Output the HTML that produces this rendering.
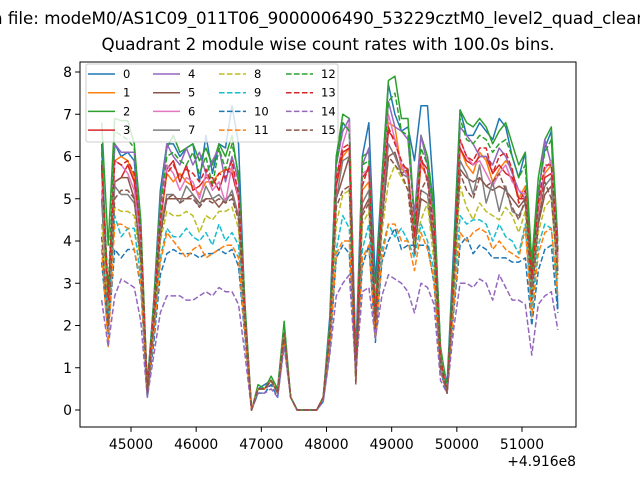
<!DOCTYPE html>
<html><head><meta charset="utf-8"><style>
body{margin:0;background:#fff}
svg{display:block;font-family:"DejaVu Sans","Liberation Sans",sans-serif}
</style></head><body>
<svg id="chart" width="640" height="480" viewBox="0 0 640 480" xmlns="http://www.w3.org/2000/svg">
<rect x="0" y="0" width="640" height="480" fill="#fff"/>
<text x="-8" y="24" font-size="16.7">n file: modeM0/AS1C09_011T06_9000006490_53229cztM0_level2_quad_clean.evt</text>
<text x="328" y="50" font-size="16.7" text-anchor="middle">Quadrant 2 module wise count rates with 100.0s bins.</text>
<g id="plot"></g>
<rect x="80" y="62" width="496" height="365" fill="none" stroke="#000" stroke-width="1"/>
<text x="576" y="466" font-size="13.9" text-anchor="end">+4.916e8</text>
</svg>
<script>
const T0 = 44550, DT = 100;
const xTicks = [45000,46000,47000,48000,49000,50000,51000];
const yTicks = [0,1,2,3,4,5,6,7,8];
const seriesLabels = ["0","1","2","3","4","5","6","7","8","9","10","11","12","13","14","15"];
const colors = ["#1f77b4","#ff7f0e","#2ca02c","#d62728","#9467bd","#8c564b","#e377c2","#7f7f7f","#bcbd22","#17becf","#1f77b4","#ff7f0e","#2ca02c","#d62728","#9467bd","#8c564b"];
const s0 = [6.3,2.5,6.3,6.0,6.1,5.9,4.0,0.6,2.6,5.2,6.3,6.3,6.0,6.2,6.3,5.4,6.5,5.6,6.3,6.2,7.2,6.3,2.3,0,0.5,0.6,0.7,0.4,1.9,0.3,0,0,0,0,0.3,2.2,6.0,6.8,6.6,1.3,6.0,6.8,3.0,5.5,7.7,7.0,6.6,6.7,5.9,7.2,7.2,5.0,1.4,0.6,3.8,7.1,6.5,6.5,6.8,6.6,6.4,6.9,6.7,6.0,5.5,6.1,3.3,5.1,6.2,6.6,2.4];
const s1 = [5.2,2.7,5.9,6.0,5.9,5.5,4.0,0.5,2.2,4.4,5.6,5.4,5.6,5.4,5.3,5.1,5.4,5.4,5.6,5.7,5.7,5.0,2.2,0,0.5,0.5,0.7,0.4,1.8,0.3,0,0,0,0,0.3,1.8,5.3,6.0,6.2,0.8,5.2,5.4,2.1,4.9,6.8,6.7,5.7,5.6,4.0,5.8,5.5,4.3,1.2,0.4,3.1,6.2,5.8,5.6,6.1,5.9,5.4,5.7,5.9,5.7,5.0,5.3,3.0,4.7,5.6,5.8,3.5];
const s2 = [6.8,3.9,6.9,6.85,6.85,6.3,4.5,0.5,2.5,5.0,6.2,6.5,6.1,6.2,6.3,5.9,6.2,5.8,6.3,6.0,6.5,5.5,2.5,0,0.6,0.5,0.8,0.5,2.1,0.3,0,0,0,0,0.3,2.0,6.0,7.0,6.9,0.7,6.0,6.1,2.4,5.5,7.8,7.9,6.9,6.9,4.5,6.5,6.0,4.8,1.5,0.5,3.5,7.1,6.8,6.7,6.9,6.7,6.3,6.6,6.8,6.3,5.8,6.1,3.5,5.5,6.4,6.7,4.0];
const s3 = [5.7,2.5,5.4,5.5,5.8,5.4,4.0,0.5,2.3,4.5,5.7,5.9,5.4,5.8,5.2,5.3,5.5,5.5,5.2,5.7,5.6,5.0,2.2,0,0.5,0.5,0.7,0.4,1.8,0.3,0,0,0,0,0.3,1.8,5.3,6.1,6.2,0.8,5.5,5.7,2.2,5.0,6.6,6.4,5.8,5.7,4.0,5.9,5.7,4.3,1.2,0.4,3.1,6.2,5.9,5.8,6.0,6.0,5.6,5.8,5.6,5.5,5.0,5.0,3.1,4.8,5.5,5.6,3.6];
const s4 = [5.9,2.2,6.3,6.1,6.1,6.1,4.2,0.4,2.4,4.9,6.3,6.0,5.8,6.2,5.8,6.1,5.6,5.9,6.2,5.4,6.0,5.4,2.3,0,0.5,0.5,0.6,0.5,1.9,0.3,0,0,0,0,0.3,1.9,5.8,6.6,6.9,1.0,5.8,6.2,2.2,5.3,7.3,6.7,6.6,6.4,4.6,6.5,5.8,4.5,1.3,0.4,3.3,6.7,6.5,6.3,6.0,6.0,5.8,6.2,6.0,5.6,5.2,5.0,3.0,5.0,6.4,5.8,3.8];
const s5 = [5.0,2.1,5.4,5.5,5.5,5.0,3.6,0.4,2.0,4.2,5.0,5.0,5.0,5.0,5.1,4.9,5.0,5.0,4.8,5.0,5.1,4.6,2.0,0,0.5,0.5,0.7,0.4,1.8,0.3,0,0,0,0,0.3,1.7,5.0,5.5,6.0,0.8,4.7,5.0,1.9,4.5,6.0,6.1,5.6,5.7,3.8,5.0,4.9,3.9,1.1,0.4,2.9,5.7,5.5,5.4,5.5,5.3,5.2,5.3,5.2,5.0,4.8,5.0,2.8,4.4,5.1,5.3,3.3];
const s6 = [5.6,2.4,5.9,5.8,5.6,5.2,4.0,0.5,2.3,4.5,5.8,5.6,5.2,5.5,5.4,5.0,5.6,5.2,5.4,4.9,5.8,5.0,2.2,0,0.5,0.5,0.7,0.4,1.9,0.3,0,0,0,0,0.3,1.9,5.5,6.3,6.8,0.9,5.6,5.7,2.3,5.0,7.0,6.4,5.8,5.5,4.3,6.0,5.4,4.4,1.3,0.5,3.2,6.4,6.0,5.8,5.9,5.6,5.3,5.6,5.8,5.4,5.2,5.1,3.0,4.8,5.7,5.9,3.6];
const s7 = [5.0,2.3,5.3,5.1,5.1,4.9,3.8,0.4,2.1,4.3,5.1,5.1,4.9,5.3,5.1,4.8,5.3,5.0,5.1,4.9,5.2,4.6,2.1,0,0.5,0.5,0.7,0.4,1.8,0.3,0,0,0,0,0.3,1.7,5.0,5.9,6.0,0.8,4.9,5.2,2.0,4.6,6.3,6.0,5.6,5.5,3.9,5.2,5.1,4.0,1.1,0.4,3.0,5.9,5.6,5.1,5.8,4.9,5.4,4.7,5.3,4.7,4.6,4.9,2.8,4.5,5.3,5.5,3.3];
const s8 = [4.4,2.3,4.8,4.7,4.7,4.6,3.4,0.4,1.9,4.0,4.7,4.6,4.6,4.7,4.6,4.2,4.6,4.5,4.7,4.7,4.8,4.3,1.9,0,0.5,0.5,0.7,0.4,1.8,0.3,0,0,0,0,0.3,1.6,4.4,5.1,5.2,0.7,4.4,4.7,1.9,4.2,5.4,5.8,5.5,5.2,3.9,4.5,4.9,3.5,1.0,0.4,2.7,5.3,4.8,4.5,4.9,4.7,4.6,4.5,4.8,4.6,4.2,4.7,2.6,4.2,4.8,5.0,3.1];
const s9 = [3.8,2.2,4.6,4.1,4.3,4.3,3.1,0.4,1.8,3.6,4.3,4.1,4.1,4.3,4.1,4.0,4.2,3.9,4.4,4.0,4.2,3.9,1.8,0,0.5,0.5,0.7,0.4,1.7,0.3,0,0,0,0,0.3,1.5,3.8,4.6,4.3,0.8,3.8,4.4,1.9,3.8,4.4,4.1,4.3,4.0,3.6,4.4,4.0,3.3,1.0,0.4,2.5,4.6,4.4,4.5,4.5,4.4,4.0,4.4,4.1,4.0,3.7,4.4,2.4,3.9,4.4,4.3,2.7];
const s10 = [3.5,1.8,3.8,3.6,3.8,3.8,2.9,0.3,1.6,3.2,3.7,3.8,3.7,3.7,3.7,3.6,3.7,3.7,3.8,3.7,3.8,3.4,1.7,0,0.4,0.4,0.6,0.3,1.6,0.3,0,0,0,0,0.2,1.4,3.6,3.9,3.7,0.9,3.4,3.9,1.6,3.5,4.0,4.3,3.8,3.9,3.9,3.9,3.9,3.0,0.9,0.4,2.3,3.9,4.1,3.7,3.9,3.8,3.6,3.6,3.6,3.5,3.5,3.6,2.0,3.3,3.8,3.9,2.3];
const s11 = [3.8,1.5,4.4,4.4,4.3,3.8,3.0,0.4,1.8,3.5,4.2,4.0,3.8,3.6,3.8,3.9,3.6,3.7,3.8,3.9,3.9,3.6,1.8,0,0.5,0.5,0.7,0.4,1.7,0.3,0,0,0,0,0.3,1.5,3.7,4.0,4.0,0.8,3.6,3.9,1.7,3.6,4.4,4.4,4.0,4.0,3.3,4.2,3.8,3.1,0.9,0.4,2.4,4.2,4.0,4.2,4.3,4.2,3.8,4.0,3.8,3.7,3.6,4.3,2.2,3.7,4.2,4.3,2.7];
const s12 = [6.1,2.8,6.6,6.5,6.4,6.2,4.4,0.5,2.6,4.8,6.0,6.1,5.9,5.8,6.1,5.6,6.0,5.3,6.2,5.7,6.3,5.6,2.4,0,0.5,0.5,0.7,0.5,2.0,0.3,0,0,0,0,0.3,2.0,5.8,6.8,6.6,0.9,5.8,5.9,2.2,5.3,7.3,7.5,6.6,6.5,4.4,6.2,5.8,4.6,1.4,0.5,3.4,6.9,6.4,6.3,6.5,6.4,6.1,6.3,6.4,6.0,5.5,5.8,3.2,5.2,6.1,6.4,3.8];
const s13 = [5.8,2.6,5.9,5.8,5.9,5.6,4.1,0.5,2.3,4.5,5.6,5.8,5.5,5.7,5.6,5.4,5.7,5.3,5.6,5.5,5.9,5.1,2.2,0,0.5,0.5,0.7,0.4,1.8,0.3,0,0,0,0,0.3,1.8,5.5,6.2,6.3,0.8,5.3,5.8,2.1,5.1,6.7,6.3,5.9,5.6,4.1,6.0,5.4,4.3,1.2,0.4,3.2,6.4,6.0,5.9,6.2,6.2,5.6,6.0,6.1,5.7,4.9,5.2,3.1,4.9,5.8,5.8,3.7];
const s14 = [2.6,1.5,2.7,3.1,3.0,2.9,2.1,0.3,1.3,2.3,2.7,2.7,2.7,2.6,2.6,2.7,2.8,2.7,2.9,2.8,2.8,2.5,1.3,0,0.4,0.4,0.5,0.3,1.5,0.3,0,0,0,0,0.2,1.3,2.7,3.0,3.2,0.9,2.8,2.9,1.7,2.7,3.2,3.1,3.0,2.8,2.3,3.0,2.9,2.5,0.7,0.4,1.9,3.0,3.0,2.9,3.1,3.0,2.6,3.2,2.9,2.6,2.6,2.5,1.3,2.5,2.7,2.8,1.9];
const s15 = [4.1,2.0,5.0,5.2,5.2,5.0,3.5,0.4,2.0,4.1,5.0,5.1,4.9,5.0,5.0,4.8,5.0,4.9,5.0,4.9,5.0,4.5,2.0,0,0.5,0.5,0.7,0.4,1.8,0.3,0,0,0,0,0.3,1.7,4.8,5.2,5.3,0.6,4.6,4.9,1.9,4.4,6.0,5.8,5.6,5.2,3.7,5.2,5.5,3.8,1.0,0.4,2.9,5.6,5.2,5.0,5.5,5.3,5.4,5.6,5.2,4.8,4.5,5.0,2.6,4.4,5.4,5.0,3.2];
const allSeries = [s0,s1,s2,s3,s4,s5,s6,s7,s8,s9,s10,s11,s12,s13,s14,s15];

const NS = "http://www.w3.org/2000/svg";
const AX = {l:80, r:576, t:62, b:427};
function xScale(v){ return 131 + (v - 45000) * (391/6000); }
function yScale(v){ return 410 - v * 42.25; }
const plot = document.getElementById('plot');
const svg = document.getElementById('chart');
function mk(tag, attrs, parent){
  const e = document.createElementNS(NS, tag);
  for (const k in attrs) e.setAttribute(k, attrs[k]);
  (parent || plot).appendChild(e);
  return e;
}
const defs = mk('defs', {}, svg);
const cp = mk('clipPath', {id:'clip'}, defs);
mk('rect', {x:AX.l, y:AX.t, width:AX.r-AX.l, height:AX.b-AX.t}, cp);
const lines = mk('g', {'clip-path':'url(#clip)'});



allSeries.forEach((arr, si) => {
  const pts = arr.map((v, i) => xScale(T0 + i*DT).toFixed(2) + ',' + yScale(v).toFixed(2)).join(' ');
  const pl = mk('polyline', {points:pts, fill:'none', stroke:colors[si], 'stroke-width':1.5, 'stroke-linejoin':'round'}, lines);
  if (si >= 8) pl.setAttribute('stroke-dasharray', '5.55,2.4');
  
  
});

xTicks.forEach(t => {
  const x = xScale(t);
  const tk = mk('line', {x1:x, x2:x, y1:AX.b, y2:AX.b+4.9, stroke:'#000', 'stroke-width':1});
  
  
  const tl = mk('text', {x:x, y:AX.b+22, 'font-size':13.9, 'text-anchor':'middle'});
  tl.textContent = t;
  
  
});
yTicks.forEach(t => {
  const y = yScale(t);
  const tk = mk('line', {x1:AX.l-4.9, x2:AX.l, y1:y, y2:y, stroke:'#000', 'stroke-width':1});
  
  
  const tl = mk('text', {x:AX.l-8, y:y+5, 'font-size':13.9, 'text-anchor':'end'});
  tl.textContent = t;
  
  
});

const lg = mk('g', {});


mk('rect', {x:86, y:64, width:252, height:78, rx:2, fill:'#fff', 'fill-opacity':0.8, stroke:'#ccc', 'stroke-width':1}, lg);
const colX = [88, 153, 219, 286];
seriesLabels.forEach((lab, i) => {
  const c = Math.floor(i/4), r = i%4;
  const y = 74 + r*18.7;
  const ent = mk('g', {}, lg);
  
  
  const ln = mk('line', {x1:colX[c], x2:colX[c]+27, y1:y, y2:y, stroke:colors[i], 'stroke-width':1.5}, ent);
  if (i >= 8) ln.setAttribute('stroke-dasharray', '5.55,2.4');
  const tx = mk('text', {x:colX[c]+35, y:y+4, 'font-size':11.5}, ent);
  tx.textContent = lab;
});
</script>
</body></html>
